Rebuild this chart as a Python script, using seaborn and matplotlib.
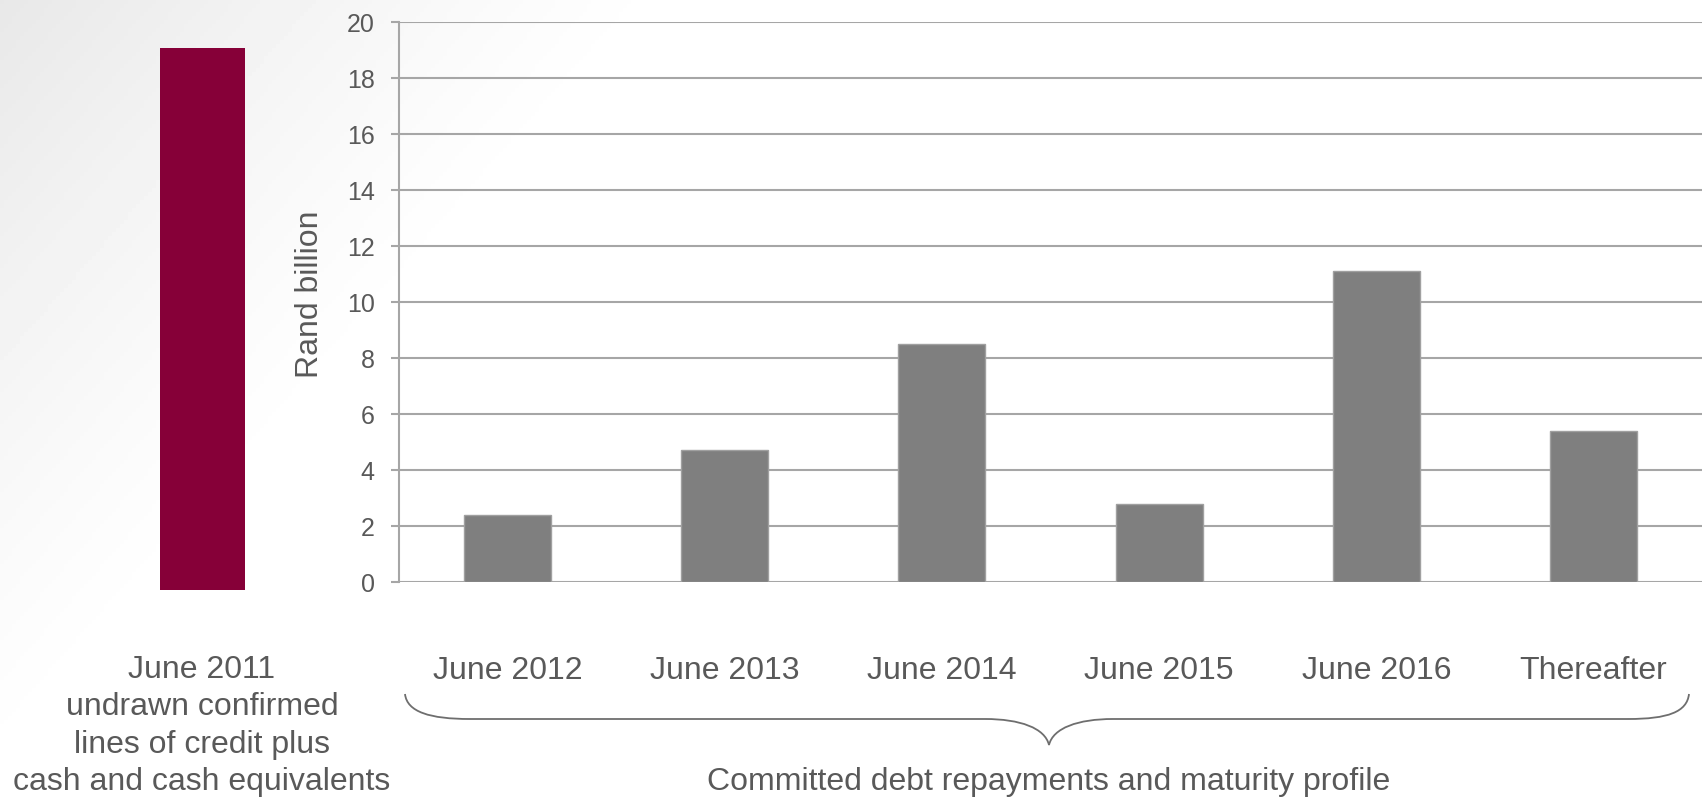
import matplotlib

matplotlib.use("Agg")

import matplotlib.pyplot as plt
import numpy as np
import pandas as pd
import seaborn as sns
from matplotlib.patches import PathPatch
from matplotlib.path import Path

# data
liquidity_label = "June 2011\nundrawn confirmed\nlines of credit plus\ncash and cash equivalents"
liquidity_value = [19.1]
periods = ["June 2012", "June 2013", "June 2014", "June 2015", "June 2016", "Thereafter"]
repayments = [2.4, 4.7, 8.5, 2.8, 11.1, 5.4]
y_ticks = [0, 2, 4, 6, 8, 10, 12, 14, 16, 18, 20]
y_label = "Rand billion"
group_label = "Committed debt repayments and maturity profile"

TEXT = "#595959"
GRID = "#A6A6A6"
RED = "#860038"
GREY = "#7F7F7F"

sns.set_style("white")
plt.rcParams["font.family"] = ["Liberation Sans", "DejaVu Sans"]

W, H = 1702, 800
fig = plt.figure(figsize=(W / 100, H / 100), dpi=100)

# background with soft grey gradient from the top-left corner
bg = fig.add_axes([0, 0, 1, 1], zorder=-1)
yy, xx = np.mgrid[0:H:4, 0:W:4]
d = np.clip(1 - (xx / 680 + yy / 780), 0, 1)
shade = 1 - 0.09 * d ** 1.2
bg.imshow(shade, cmap="gray", vmin=0, vmax=1, extent=[0, W, H, 0], aspect="auto")
bg.set_xlim(0, W)
bg.set_ylim(H, 0)
bg.axis("off")

# curly brace under the maturity bars
verts = [
    (405, 694), (407, 712), (430, 719), (470, 719),
    (985, 719),
    (1020, 719), (1045, 728), (1049, 745),
    (1053, 728), (1078, 719), (1113, 719),
    (1628, 719),
    (1668, 719), (1687, 712), (1689, 694),
]
codes = [Path.MOVETO, Path.CURVE4, Path.CURVE4, Path.CURVE4,
         Path.LINETO,
         Path.CURVE4, Path.CURVE4, Path.CURVE4,
         Path.CURVE4, Path.CURVE4, Path.CURVE4,
         Path.LINETO,
         Path.CURVE4, Path.CURVE4, Path.CURVE4]
bg.add_patch(PathPatch(Path(verts, codes), facecolor="none", edgecolor="#6E6E6E", lw=1.3))

# left panel: liquidity bar
ax0 = fig.add_axes([117 / W, 210 / H, 171 / W, 568 / H])
ax0.patch.set_alpha(0)
sns.barplot(x=["liq"], y=liquidity_value, color=RED, saturation=1, width=0.5,
            edgecolor=RED, linewidth=0, ax=ax0)
ax0.set_xlim(-0.5, 0.5)
ax0.set_ylim(0, 20)
ax0.axis("off")

# main panel: repayments
ax = fig.add_axes([399 / W, 218 / H, (W - 399) / W, 560 / H])
ax.patch.set_alpha(0)
df = pd.DataFrame({"period": periods, "value": repayments})
sns.barplot(data=df, x="period", y="value", color=GREY, saturation=1, width=0.4,
            edgecolor="#A0A0A0", linewidth=1, ax=ax, zorder=3)
ax.set_ylim(0, 20)
ax.set_xlim(-0.5, 5.5)
ax.set_yticks(y_ticks)
ax.yaxis.grid(True, color=GRID, lw=1.5, zorder=0)
ax.set_axisbelow(True)
for side in ["top", "right", "bottom"]:
    ax.spines[side].set_visible(False)
ax.spines["left"].set_color(GRID)
ax.spines["left"].set_linewidth(1.5)
ax.tick_params(axis="y", length=6, width=1.5, color=GRID, pad=11.5,
               labelsize=18, labelcolor=TEXT, left=True)
ax.tick_params(axis="x", length=0, pad=53, labelsize=23, labelcolor=TEXT)
ax.set_xlabel("")
ax.set_ylabel(y_label, fontsize=23, color=TEXT)
ax.yaxis.set_label_coords(-0.057, 0.514)

fig.text(202 / W, (H - 655) / H, liquidity_label, ha="center", va="top",
         fontsize=23, color=TEXT, linespacing=1.32)
fig.text(1049 / W, (H - 782) / H, group_label, ha="center", va="center",
         fontsize=23, color=TEXT)

fig.savefig("out.png", dpi=100)
